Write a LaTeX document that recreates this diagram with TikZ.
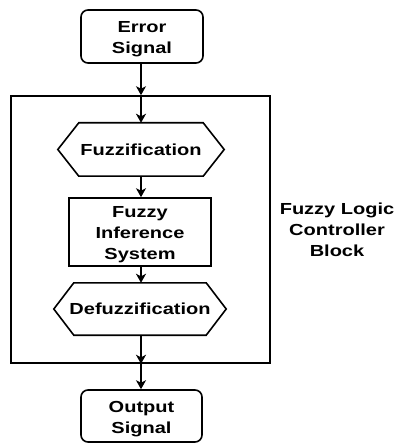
\documentclass[tikz,border=0pt]{standalone}
\usepackage{fontspec}
\setmainfont{Liberation Sans}[FakeStretch=1.25]
\usetikzlibrary{arrows.meta}
\newcommand{\lowtext}[1]{\raisebox{-2.5pt}[\height][\depth]{\begin{tabular}{@{}c@{}}#1\end{tabular}}}
\begin{document}
\begin{tikzpicture}[x=1pt,y=-1pt,
  lw/.style={line width=1.6pt},
  txt/.style={font=\fontsize{16}{21}\selectfont\bfseries, align=center, inner sep=0pt},
  term/.style={txt, draw, lw, rounded corners=7pt, minimum width=122pt, minimum height=53pt},
  proc/.style={txt, draw, lw, minimum width=142pt, minimum height=68pt},
  hexa/.style={txt, minimum height=53pt},
  arr/.style={lw, -{Stealth[length=9pt,width=10pt,inset=2.5pt]}}
]
\useasboundingbox (0,0) rectangle (394,443);
\node[term] (es) at (142,36.5) {\lowtext{Error\\Signal}};
\node[draw, lw, minimum width=259pt, minimum height=267pt, inner sep=0pt] (blk) at (140.5,229.5) {};
\node[hexa, minimum width=166pt] (fz) at (141,149.5) {Fuzzification};
\node[proc] (fis) at (140,232) {\lowtext{Fuzzy\\Inference\\System}};
\node[hexa, minimum width=172pt, minimum height=52pt] (dfz) at (140,309) {Defuzzification};
\node[term, minimum width=121pt, minimum height=52pt] (os) at (141.5,416) {\lowtext{Output\\Signal}};
\node[txt] (lbl) at (337,230) {Fuzzy Logic\\Controller\\Block};
% hexagon outlines
\draw[lw, line join=miter] (fz.west) -- ([xshift=21pt]fz.north west) -- ([xshift=-21pt]fz.north east) -- (fz.east) -- ([xshift=-21pt]fz.south east) -- ([xshift=21pt]fz.south west) -- cycle;
\draw[lw, line join=miter] (dfz.west) -- ([xshift=20pt]dfz.north west) -- ([xshift=-20pt]dfz.north east) -- (dfz.east) -- ([xshift=-20pt]dfz.south east) -- ([xshift=20pt]dfz.south west) -- cycle;
% connectors
\coordinate (in) at (fz.north |- blk.north);
\draw[arr] (es.south -| fz.north) -- (in);
\draw[arr] (in) -- (fz.north);
\draw[arr] (fz.south) -- (fz.south |- fis.north);
\draw[arr] (fz.south |- fis.south) -- (fz.south |- dfz.north);
\draw[arr] (fz.south |- dfz.south) -- (fz.south |- blk.south);
\draw[arr] (fz.south |- blk.south) -- (fz.south |- os.north);
\end{tikzpicture}
\end{document}
